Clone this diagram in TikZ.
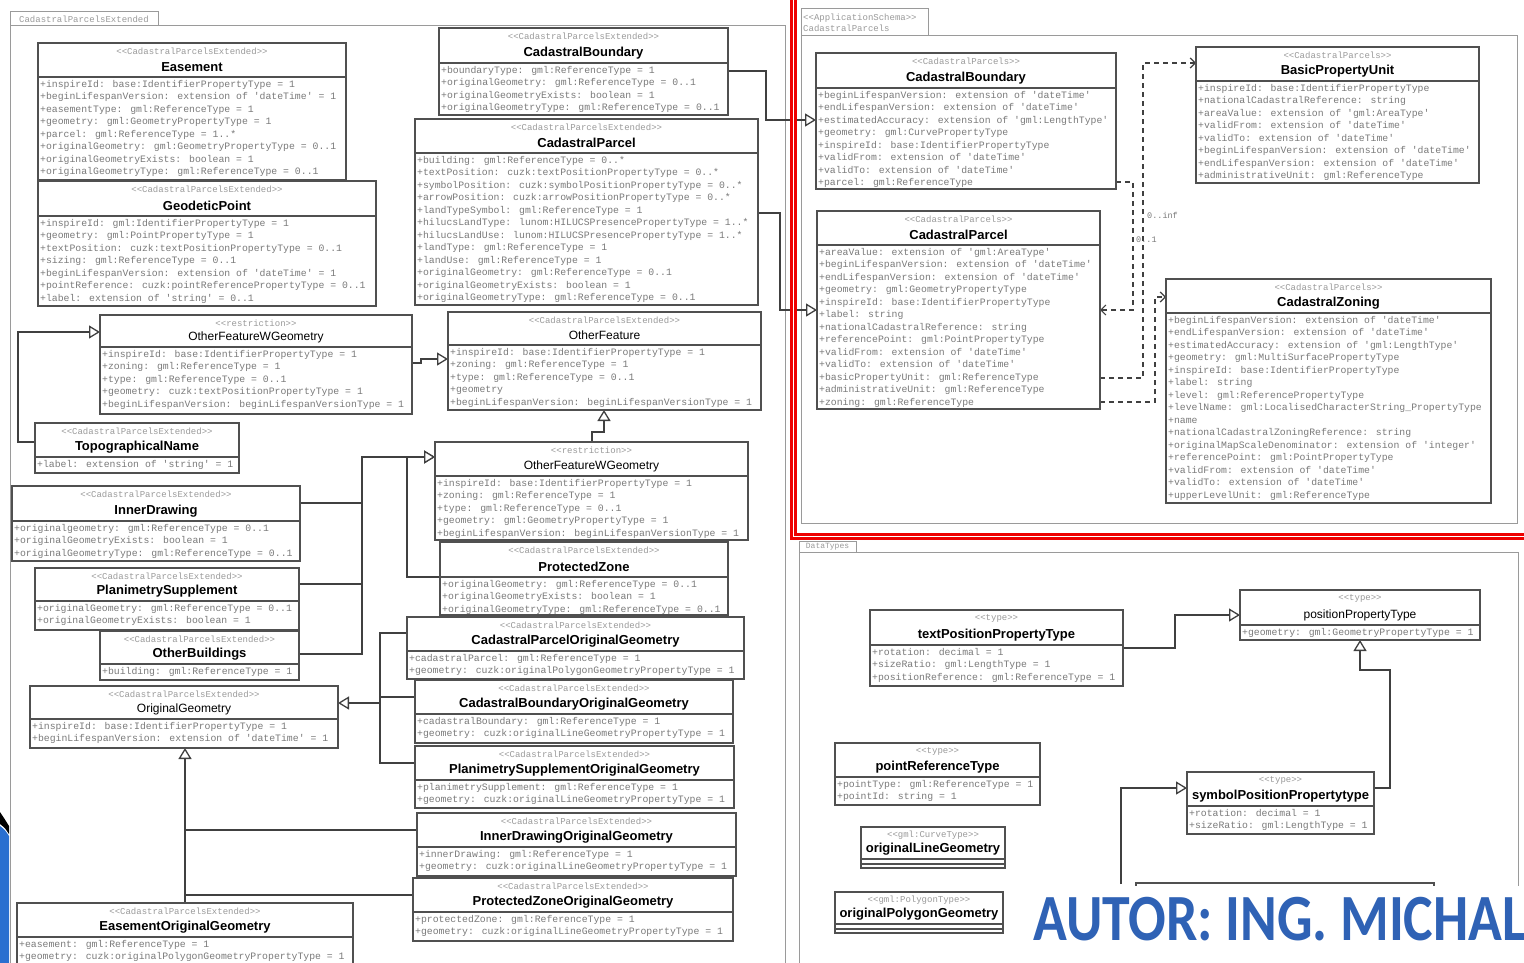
\documentclass[tikz,border=0pt]{standalone}
\usepackage{fontspec}
\setmainfont{Liberation Sans}
\newfontfamily\attrf{Liberation Mono}
\newfontfamily\autorf{Carlito}
\usepackage{graphicx}
\usetikzlibrary{arrows.meta}
\definecolor{boxc}{HTML}{505050}
\definecolor{atc}{HTML}{7A7A7A}
\definecolor{stc}{HTML}{9A9A9A}
\definecolor{linec}{HTML}{404040}
\definecolor{pkgc}{HTML}{9A9A9A}
\definecolor{redf}{HTML}{EE0000}
\definecolor{autorc}{HTML}{2F62B5}
\definecolor{slideblue}{HTML}{2A6FD0}
\tikzset{
 ubox/.style={draw=boxc, line width=1.1pt, fill=white, outer sep=0pt, inner sep=0pt},
 sepl/.style={draw=boxc, line width=1.1pt},
 stereo/.style={font=\attrf\fontsize{9}{11}\selectfont, text=stc, inner sep=0pt},
 ctitle/.style={font=\fontsize{12}{14}\selectfont, inner sep=0pt},
 attrs/.style={font=\attrf\fontsize{9.8}{12.5}\selectfont, text=atc, align=left, inner xsep=2pt, inner ysep=3pt, anchor=north west},
 gen/.style={draw=linec, line width=1.3pt, -{Triangle[length=11pt, width=13pt, fill=white]}},
 conn/.style={draw=linec, line width=1.3pt},
 assoc/.style={draw=linec, line width=1.2pt, dash pattern=on 5pt off 4pt, -{Straight Barb[length=5pt, width=10pt]}},
 pkg/.style={draw=pkgc, line width=1pt},
 tabt/.style={font=\attrf\fontsize{9}{11}\selectfont, text=stc, inner sep=0pt},
 mult/.style={font=\attrf\fontsize{8.5}{10}\selectfont, text=atc, inner sep=0pt, anchor=west},
}
% bold class title
\newcommand\bt[1]{{\fontsize{13}{15}\selectfont\bfseries #1}}
% id, x, y, width, header height, total height, stereotype, title, attributes
\newcommand\umlc[9]{%
 \node[ubox, minimum width=#4pt, minimum height=#6pt, anchor=north west] (#1) at (#2,#3) {};
 \draw[sepl] ([yshift=-#5pt]#1.north west) -- ([yshift=-#5pt]#1.north east);
 \node[stereo] at ([yshift=-8pt]#1.north) {#7};
 \node[ctitle] at ([yshift={(10-#5)*1pt}]#1.north) {#8};
 \node[attrs] at ([yshift=-#5pt]#1.north west) {#9};
}
\newcommand\stE{<<CadastralParcelsExtended>>}
\newcommand\stC{<<CadastralParcels>>}
\begin{document}
\begin{tikzpicture}[x=1pt,y=-1pt]
\useasboundingbox (0,0) rectangle (1524,963);
\clip (0,0) rectangle (1524,963);
\fill[white] (0,0) rectangle (1524,963);

% ---------- packages ----------
\draw[pkg] (10,12) rectangle (158,26);
\node[tabt] (tabL) at (84,19.5) {CadastralParcelsExtended};
\draw[pkg] (10,975) -- (10,26) -- (785,26) -- (785,975);

\draw[pkg] (801,9) rectangle (928,36);
\node[tabt, align=left, anchor=west] (tabR) at (803,23) {<<ApplicationSchema>>\\CadastralParcels};
\draw[pkg] (801,36) rectangle (1517,523);

\draw[pkg] (799,541) rectangle (856,552);
\node[tabt, font=\attrf\fontsize{8}{9}\selectfont] (tabD) at (827.5,546.5) {DataTypes};
\draw[pkg] (799,975) -- (799,552) -- (1518,552) -- (1518,975);

% ---------- connectors (left package) ----------
\coordinate (hidc) at (1121,884);
\draw[gen] (35,442) -- (18,442) |- (100,332);
\draw[gen] (300,654) -| (362,457) -- (435,457);
\draw[conn] (300,503) -- (362,503);
\draw[conn] (299,584) -- (362,584);
\draw[gen] (440,577) -- (407,577) |- (435,457);
\draw[gen] (412,363) -- (421,363) |- (448,359);
\draw[gen] (592,442) -- (592,432) -| (604,410);
\draw[gen] (728,71) -| (766,120) -- (816,120);
\draw[gen] (758,213) -| (780,310) -- (817,310);
\draw[gen] (407,633) -| (380,703) -- (338,703);
\draw[conn] (415,697) -- (380,697);
\draw[conn] (415,763) -| (380,703);
\draw[gen] (185,903) -- (185,748);
\draw[conn] (417,830) -- (185,830);
\draw[conn] (413,895) -- (185,895);

% ---------- connectors (right package) ----------
\draw[assoc] (1100,378) -- (1143,378) -- (1143,63) -- (1196,63);
\draw[assoc] (1116,182) -- (1133,182) -- (1133,310) -- (1100,310);
\draw[assoc] (1100,402) -- (1155,402) -- (1155,297) -- (1166,297);
\node[mult] (m1) at (1147,215) {0..inf};
\node[mult] (m2) at (1136,240) {0..1};

% ---------- connectors (data types) ----------
\draw[gen] (1123,648) -| (1175,615) -- (1240,615);
\draw[gen] (1374,788) -| (1390,670) -| (1360,640);
\draw[gen] (hidc) |- (1187,788);

% ---------- classes: CadastralParcelsExtended ----------
\umlc{eas}{38}{43}{308}{34}{137}{\stE}{\bt{Easement}}{%
+inspireId: base:IdentifierPropertyType = 1\\
+beginLifespanVersion: extension of 'dateTime' = 1\\
+easementType: gml:ReferenceType = 1\\
+geometry: gml:GeometryPropertyType = 1\\
+parcel: gml:ReferenceType = 1..*\\
+originalGeometry: gml:GeometryPropertyType = 0..1\\
+originalGeometryExists: boolean = 1\\
+originalGeometryType: gml:ReferenceType = 0..1}

\umlc{geo}{38}{181}{338}{35}{125}{\stE}{\bt{GeodeticPoint}}{%
+inspireId: gml:IdentifierPropertyType = 1\\
+geometry: gml:PointPropertyType = 1\\
+textPosition: cuzk:textPositionPropertyType = 0..1\\
+sizing: gml:ReferenceType = 0..1\\
+beginLifespanVersion: extension of 'dateTime' = 1\\
+pointReference: cuzk:pointReferencePropertyType = 0..1\\
+label: extension of 'string' = 0..1}

\umlc{ofwgl}{100}{315}{312}{32}{99}{<<restriction>>}{OtherFeatureWGeometry}{%
+inspireId: base:IdentifierPropertyType = 1\\
+zoning: gml:ReferenceType = 1\\
+type: gml:ReferenceType = 0..1\\
+geometry: cuzk:textPositionPropertyType = 1\\
+beginLifespanVersion: beginLifespanVersionType = 1}

\umlc{topo}{35}{423}{204}{34}{50}{\stE}{\bt{TopographicalName}}{%
+label: extension of 'string' = 1}

\umlc{inner}{12}{486}{288}{35}{75}{\stE}{\bt{InnerDrawing}}{%
+originalgeometry: gml:ReferenceType = 0..1\\
+originalGeometryExists: boolean = 1\\
+originalGeometryType: gml:ReferenceType = 0..1}

\umlc{plan}{35}{568}{264}{33}{62}{\stE}{\bt{PlanimetrySupplement}}{%
+originalGeometry: gml:ReferenceType = 0..1\\
+originalGeometryExists: boolean = 1}

\umlc{othb}{100}{631}{199}{33}{49}{\stE}{\bt{OtherBuildings}}{%
+building: gml:ReferenceType = 1}

\umlc{orig}{30}{686}{308}{33}{62}{\stE}{OriginalGeometry}{%
+inspireId: base:IdentifierPropertyType = 1\\
+beginLifespanVersion: extension of 'dateTime' = 1}

\umlc{cbl}{439}{28}{289}{35}{87}{\stE}{\bt{CadastralBoundary}}{%
+boundaryType: gml:ReferenceType = 1\\
+originalGeometry: gml:ReferenceType = 0..1\\
+originalGeometryExists: boolean = 1\\
+originalGeometryType: gml:ReferenceType = 0..1}

\umlc{cpl}{415}{119}{343}{34}{186}{\stE}{\bt{CadastralParcel}}{%
+building: gml:ReferenceType = 0..*\\
+textPosition: cuzk:textPositionPropertyType = 0..*\\
+symbolPosition: cuzk:symbolPositionPropertyType = 0..*\\
+arrowPosition: cuzk:arrowPositionPropertyType = 0..*\\
+landTypeSymbol: gml:ReferenceType = 1\\
+hilucsLandType: lunom:HILUCSPresencePropertyType = 1..*\\
+hilucsLandUse: lunom:HILUCSPresencePropertyType = 1..*\\
+landType: gml:ReferenceType = 1\\
+landUse: gml:ReferenceType = 1\\
+originalGeometry: gml:ReferenceType = 0..1\\
+originalGeometryExists: boolean = 1\\
+originalGeometryType: gml:ReferenceType = 0..1}

\umlc{of}{448}{312}{313}{33}{98}{\stE}{OtherFeature}{%
+inspireId: base:IdentifierPropertyType = 1\\
+zoning: gml:ReferenceType = 1\\
+type: gml:ReferenceType = 0..1\\
+geometry\\
+beginLifespanVersion: beginLifespanVersionType = 1}

\umlc{ofwgr}{435}{442}{313}{34}{98}{<<restriction>>}{OtherFeatureWGeometry}{%
+inspireId: base:IdentifierPropertyType = 1\\
+zoning: gml:ReferenceType = 1\\
+type: gml:ReferenceType = 0..1\\
+geometry: gml:GeometryPropertyType = 1\\
+beginLifespanVersion: beginLifespanVersionType = 1}

\umlc{pz}{440}{542}{288}{35}{73}{\stE}{\bt{ProtectedZone}}{%
+originalGeometry: gml:ReferenceType = 0..1\\
+originalGeometryExists: boolean = 1\\
+originalGeometryType: gml:ReferenceType = 0..1}

\umlc{cpog}{407}{617}{337}{34}{62}{\stE}{\bt{CadastralParcelOriginalGeometry}}{%
+cadastralParcel: gml:ReferenceType = 1\\
+geometry: cuzk:originalPolygonGeometryPropertyType = 1}

\umlc{cbog}{415}{680}{318}{34}{63}{\stE}{\bt{CadastralBoundaryOriginalGeometry}}{%
+cadastralBoundary: gml:ReferenceType = 1\\
+geometry: cuzk:originalLineGeometryPropertyType = 1}

\umlc{psog}{415}{746}{319}{34}{62}{\stE}{\bt{PlanimetrySupplementOriginalGeometry}}{%
+planimetrySupplement: gml:ReferenceType = 1\\
+geometry: cuzk:originalLineGeometryPropertyType = 1}

\umlc{idog}{417}{813}{319}{34}{63}{\stE}{\bt{InnerDrawingOriginalGeometry}}{%
+innerDrawing: gml:ReferenceType = 1\\
+geometry: cuzk:originalLineGeometryPropertyType = 1}

\umlc{pzog}{413}{878}{320}{34}{63}{\stE}{\bt{ProtectedZoneOriginalGeometry}}{%
+protectedZone: gml:ReferenceType = 1\\
+geometry: cuzk:originalLineGeometryPropertyType = 1}

\umlc{eog}{17}{903}{336}{34}{64}{\stE}{\bt{EasementOriginalGeometry}}{%
+easement: gml:ReferenceType = 1\\
+geometry: cuzk:originalPolygonGeometryPropertyType = 1}

% ---------- classes: CadastralParcels ----------
\umlc{cbr}{816}{53}{300}{35}{136}{\stC}{\bt{CadastralBoundary}}{%
+beginLifespanVersion: extension of 'dateTime'\\
+endLifespanVersion: extension of 'dateTime'\\
+estimatedAccuracy: extension of 'gml:LengthType'\\
+geometry: gml:CurvePropertyType\\
+inspireId: base:IdentifierPropertyType\\
+validFrom: extension of 'dateTime'\\
+validTo: extension of 'dateTime'\\
+parcel: gml:ReferenceType}

\umlc{cpr}{817}{211}{283}{34}{198}{\stC}{\bt{CadastralParcel}}{%
+areaValue: extension of 'gml:AreaType'\\
+beginLifespanVersion: extension of 'dateTime'\\
+endLifespanVersion: extension of 'dateTime'\\
+geometry: gml:GeometryPropertyType\\
+inspireId: base:IdentifierPropertyType\\
+label: string\\
+nationalCadastralReference: string\\
+referencePoint: gml:PointPropertyType\\
+validFrom: extension of 'dateTime'\\
+validTo: extension of 'dateTime'\\
+basicPropertyUnit: gml:ReferenceType\\
+administrativeUnit: gml:ReferenceType\\
+zoning: gml:ReferenceType}

\umlc{bpu}{1196}{47}{283}{34}{136}{\stC}{\bt{BasicPropertyUnit}}{%
+inspireId: base:IdentifierPropertyType\\
+nationalCadastralReference: string\\
+areaValue: extension of 'gml:AreaType'\\
+validFrom: extension of 'dateTime'\\
+validTo: extension of 'dateTime'\\
+beginLifespanVersion: extension of 'dateTime'\\
+endLifespanVersion: extension of 'dateTime'\\
+administrativeUnit: gml:ReferenceType}

\umlc{cz}{1166}{279}{325}{34}{224}{\stC}{\bt{CadastralZoning}}{%
+beginLifespanVersion: extension of 'dateTime'\\
+endLifespanVersion: extension of 'dateTime'\\
+estimatedAccuracy: extension of 'gml:LengthType'\\
+geometry: gml:MultiSurfacePropertyType\\
+inspireId: base:IdentifierPropertyType\\
+label: string\\
+level: gml:ReferencePropertyType\\
+levelName: gml:LocalisedCharacterString\_PropertyType\\
+name\\
+nationalCadastralZoningReference: string\\
+originalMapScaleDenominator: extension of 'integer'\\
+referencePoint: gml:PointPropertyType\\
+validFrom: extension of 'dateTime'\\
+validTo: extension of 'dateTime'\\
+upperLevelUnit: gml:ReferenceType}

% ---------- classes: DataTypes ----------
\umlc{tpp}{870}{610}{253}{35}{76}{<<type>>}{\bt{textPositionPropertyType}}{%
+rotation: decimal = 1\\
+sizeRatio: gml:LengthType = 1\\
+positionReference: gml:ReferenceType = 1}

\umlc{ppt}{1240}{590}{240}{35}{50}{<<type>>}{positionPropertyType}{%
+geometry: gml:GeometryPropertyType = 1}

\umlc{sppt}{1187}{772}{187}{34}{62}{<<type>>}{\bt{symbolPositionPropertytype}}{%
+rotation: decimal = 1\\
+sizeRatio: gml:LengthType = 1}

\umlc{prt}{835}{743}{205}{34}{62}{<<type>>}{\bt{pointReferenceType}}{%
+pointType: gml:ReferenceType = 1\\
+pointId: string = 1}

\umlc{olg}{861}{827}{144}{32}{41}{<<gml:CurveType>>}{\bt{originalLineGeometry}}{}
\draw[sepl] ([yshift=-37pt]olg.north west) -- ([yshift=-37pt]olg.north east);
\draw[draw=boxc, line width=1.8pt] (olg.north west) rectangle (olg.south east);

\umlc{opg}{835}{892}{168}{32}{41}{<<gml:PolygonType>>}{\bt{originalPolygonGeometry}}{}
\draw[sepl] ([yshift=-37pt]opg.north west) -- ([yshift=-37pt]opg.north east);
\draw[draw=boxc, line width=1.8pt] (opg.north west) rectangle (opg.south east);

\node[ubox, minimum width=298pt, minimum height=100pt, anchor=north west] (hid) at (1136,883) {};

% ---------- red highlight frame ----------
\draw[redf, line width=3pt, double=white, double distance=1pt] (793.5,-20) rectangle (1545,536.5);

% ---------- slide decoration ----------
\fill[black] (0,812) .. controls (4,818) .. (9,826) -- (9,834) .. controls (5,828) .. (0,824) -- cycle;
\fill[slideblue] (0,826) .. controls (5,830) .. (9,836) -- (9,963) -- (0,963) -- cycle;

\fill[white] (1028,886) rectangle (1524,963);
\node[anchor=base west, inner sep=0pt, text=autorc] (autor) at (1033,940)
  {\scalebox{0.845}[1]{\autorf\bfseries\fontsize{66}{70}\selectfont AUTOR: ING. MICHAL}};
\end{tikzpicture}
\end{document}
